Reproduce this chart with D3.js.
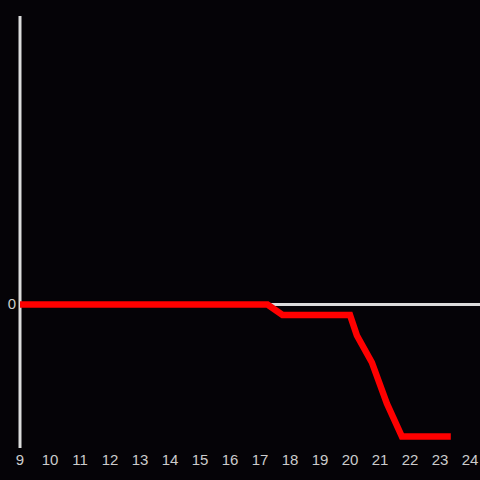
<!DOCTYPE html>
<html>
<head>
<meta charset="utf-8">
<script src="https://cdn.jsdelivr.net/npm/d3@7"></script>
<style>
  html, body { margin: 0; padding: 0; background: #050307; }
  svg { display: block; }
</style>
</head>
<body>
<div id="chart"></div>
<script>
// hours on the x axis, value on the y axis
const hours = [9, 17.25, 17.75, 20, 20.23, 20.73, 21.23, 21.73, 23.36];
const values = [0, 0, -1.05, -1.05, -3.1, -5.8, -9.9, -13.2, -13.2];
const xTicks = [9, 10, 11, 12, 13, 14, 15, 16, 17, 18, 19, 20, 21, 22, 23, 24];
const yTicks = [0];

const width = 480, height = 480;

const svg = d3.select('#chart').append('svg')
    .attr('width', width)
    .attr('height', height)
    .style('background-color', '#050307');

const x = d3.scaleLinear().domain([9, 24]).range([20, 470]);
const y = d3.scaleLinear().domain([-14.35, 28.85]).range([448, 16]);

// y axis line
svg.append('line')
    .attr('x1', 20).attr('x2', 20)
    .attr('y1', y.range()[1]).attr('y2', y.range()[0])
    .attr('stroke', '#dcdcdc')
    .attr('stroke-width', 3);

// zero line
svg.append('line')
    .attr('x1', 20).attr('x2', width)
    .attr('y1', y(0)).attr('y2', y(0))
    .attr('stroke', '#dcdcdc')
    .attr('stroke-width', 3);

// x tick labels
svg.selectAll('.xlab')
    .data(xTicks)
    .enter().append('text')
    .attr('class', 'xlab')
    .attr('x', d => x(d))
    .attr('y', 461)
    .attr('text-anchor', 'middle')
    .attr('dominant-baseline', 'middle')
    .attr('fill', '#cccccc')
    .style('font-family', '"Liberation Sans", Arial, sans-serif')
    .style('font-size', '15px')
    .text(d => d);

// y tick labels
svg.selectAll('.ylab')
    .data(yTicks)
    .enter().append('text')
    .attr('class', 'ylab')
    .attr('x', 16)
    .attr('y', d => y(d) + 1)
    .attr('text-anchor', 'end')
    .attr('dominant-baseline', 'middle')
    .attr('fill', '#cccccc')
    .style('font-family', '"Liberation Sans", Arial, sans-serif')
    .style('font-size', '15px')
    .text(d => d);

// the red series
const line = d3.line()
    .x((d, i) => x(hours[i]))
    .y(d => y(d));

svg.append('path')
    .datum(values)
    .attr('d', line)
    .attr('fill', 'none')
    .attr('stroke', '#ff0000')
    .attr('stroke-width', 6.5)
    .attr('stroke-linejoin', 'miter');
</script>
</body>
</html>
